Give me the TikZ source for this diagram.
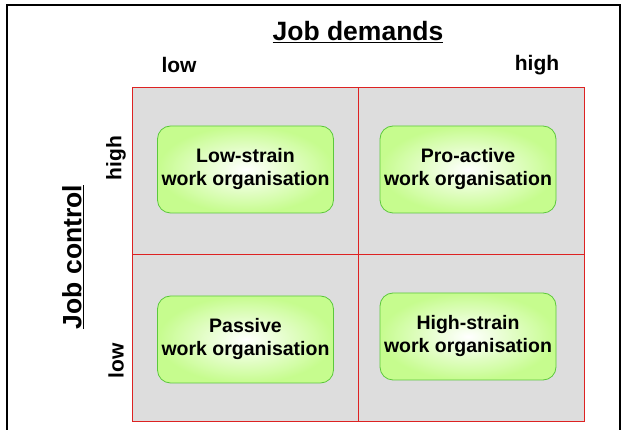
\documentclass[tikz,border=0pt]{standalone}
\usepackage{fontspec}
\setmainfont{Liberation Sans}
\usepackage{xcolor}
\definecolor{cellgray}{HTML}{DDDDDD}
\definecolor{gridred}{HTML}{DD2222}
\definecolor{boxgreen}{HTML}{C6FC8E}
\definecolor{boxline}{HTML}{5CC83C}

\begin{document}
\begin{tikzpicture}[x=1pt,y=1pt]
        \tikzset{cell/.style={draw=gridred,fill=cellgray,line width=0.8pt,
                minimum width=226pt,minimum height=167pt,inner sep=0pt},
            orgbox/.style={draw=boxline,line width=0.8pt,rounded corners=13pt,
                inner color=white,outer color=boxgreen,
                minimum width=176pt,minimum height=87pt,align=center,
                font=\fontsize{19.5}{23}\selectfont\bfseries},
            axislabel/.style={font=\fontsize{21}{24}\selectfont\bfseries},
            axistitle/.style={font=\fontsize{26.5}{30}\selectfont\bfseries}}
        \useasboundingbox (0,0) rectangle (625,-430);
        \draw[line width=2.5pt] (7,-432) -- (7,-5) -- (620,-5) -- (620,-432);
        % quadrants
        \node[cell] (hilo) at (245,-170.5) {};
        \node[cell] (hihi) at (471.5,-170.5) {};
        \node[cell] (lolo) at (245,-337.5) {};
        \node[cell] (lohi) at (471.5,-337.5) {};
        % work organisations
        \node[orgbox] (lowstrain) at (245.5,-169.5) {Low-strain\\work organisation};
        \node[orgbox] (proactive) at (468,-169.5) {Pro-active\\work organisation};
        \node[orgbox] (passive) at (245.5,-339.5) {Passive\\work organisation};
        \node[orgbox] (highstrain) at (468,-336.5) {High-strain\\work organisation};
        % axes
        \node[axistitle] (demands) at (358,-32) {\underline{Job demands}};
        \node[axislabel] (dlow) at (179,-65) {low};
        \node[axislabel] (dhigh) at (537,-65) {high};
        \node[axistitle,rotate=90] (control) at (73,-257) {\underline{Job control}};
        \node[axislabel,rotate=90] (clow) at (116,-361) {low};
        \node[axislabel,rotate=90] (chigh) at (116,-158) {high};
\end{tikzpicture}
\end{document}
